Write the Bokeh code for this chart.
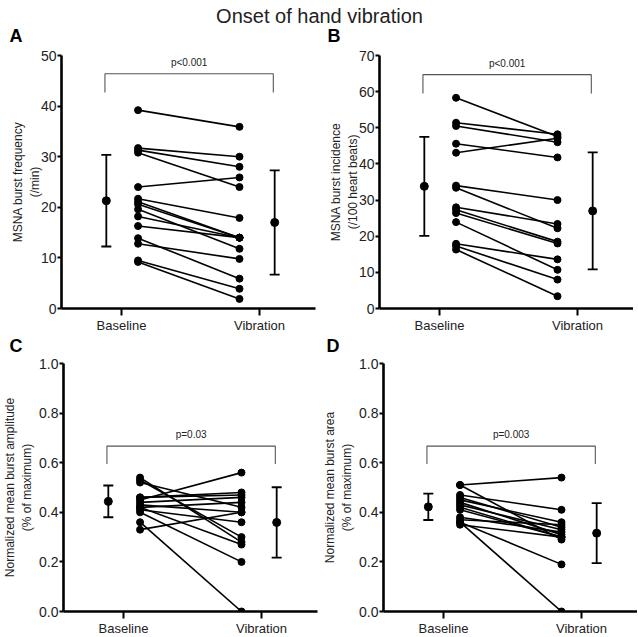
from bokeh.plotting import figure
from bokeh.layouts import column, row
from bokeh.models import Range1d, FixedTicker, Label, Whisker, TeeHead, ColumnDataSource
from bokeh.embed import file_html
from bokeh.resources import INLINE

# ---------------- data ----------------
TITLE = "Onset of hand vibration"
GROUPS = ["Baseline", "Vibration"]

a_baseline = [39.2, 31.7, 31.3, 30.8, 24.0, 21.7, 21.1, 20.6, 19.6, 18.2, 16.3, 13.9, 12.8, 9.5, 9.2]
a_vibration = [35.9, 30.0, 28.0, 24.0, 25.9, 17.9, 14.0, 14.0, 11.8, 14.0, 14.0, 5.9, 9.8, 3.9, 1.9]
a_mean = [21.3, 17.0]
a_sd = [9.05, 10.3]

b_baseline = [58.3, 51.4, 50.5, 45.6, 43.1, 34.0, 33.4, 28.0, 27.3, 26.4, 23.9, 17.9, 17.3, 16.3]
b_vibration = [47.6, 48.2, 46.0, 41.8, 47.1, 30.0, 22.2, 23.4, 18.5, 18.0, 10.7, 13.6, 8.0, 3.4]
b_mean = [33.8, 27.0]
b_sd = [13.7, 16.2]

c_baseline = [0.54, 0.53, 0.52, 0.46, 0.45, 0.44, 0.43, 0.42, 0.42, 0.41, 0.40, 0.36, 0.33, 0.46]
c_vibration = [0.28, 0.30, 0.42, 0.48, 0.56, 0.46, 0.40, 0.27, 0.44, 0.36, 0.20, 0.0, 0.40, 0.47]
c_mean = [0.444, 0.359]
c_sd = [0.064, 0.142]

d_baseline = [0.51, 0.51, 0.47, 0.46, 0.45, 0.44, 0.43, 0.42, 0.41, 0.38, 0.37, 0.36, 0.36, 0.35]
d_vibration = [0.54, 0.29, 0.41, 0.34, 0.36, 0.31, 0.33, 0.30, 0.30, 0.32, 0.35, 0.19, 0.0, 0.30]
d_mean = [0.422, 0.316]
d_sd = [0.053, 0.121]

letters = ["A", "B", "C", "D"]
p_values = ["p<0.001", "p<0.001", "p=0.03", "p=0.003"]
y_titles = [
    "MSNA burst frequency\n(/min)",
    "MSNA burst incidence\n(/100 heart beats)",
    "Normalized mean burst amplitude\n(% of maximum)",
    "Normalized mean burst area\n(% of maximum)",
]
a_ticks = [0, 10, 20, 30, 40, 50]
b_ticks = [0, 10, 20, 30, 40, 50, 60, 70]
cd_ticks = [0.0, 0.2, 0.4, 0.6, 0.8, 1.0]

# ---------------- style / positions ----------------
FONT = "Liberation Sans"
X_POS = [1.0, 2.0]
PT_SHIFT = [0.12, -0.145]
MEAN_SHIFT = [-0.11, 0.11]
PX_PER_X = 138.0
TEXT_COL = "#222222"
LEFT_PANEL = 61
LW, RW = 318, 315


def make_panel(base, vib, mean, sd, ticks, ymax, ytitle, ptxt, bracket,
               frame_w, frame_h, top, bottom, right, fmt, title_standoff):
    x0 = 1.0 - 60 / PX_PER_X
    x1 = x0 + frame_w / PX_PER_X
    p = figure(frame_width=frame_w, frame_height=frame_h, x_range=Range1d(x0, x1),
               y_range=Range1d(0, ymax), toolbar_location=None,
               output_backend="svg", min_border_left=LEFT_PANEL, min_border_right=right,
               min_border_top=top, min_border_bottom=bottom)
    p.outline_line_color = None
    p.grid.grid_line_color = None

    # paired subject lines
    xb = X_POS[0] + PT_SHIFT[0]
    xv = X_POS[1] + PT_SHIFT[1]
    xs = [[xb, xv] for _ in base]
    ys = [[b, v] for b, v in zip(base, vib)]
    p.multi_line(xs=xs, ys=ys, line_color="black", line_width=1.6)
    p.scatter(x=[xb] * len(base), y=base, size=7, color="black")
    p.scatter(x=[xv] * len(vib), y=vib, size=7, color="black")

    # mean +/- SD
    mx = [X_POS[i] + MEAN_SHIFT[i] for i in range(2)]
    src = ColumnDataSource(dict(x=mx, m=mean,
                                lo=[m - s for m, s in zip(mean, sd)],
                                hi=[m + s for m, s in zip(mean, sd)]))
    w = Whisker(base="x", upper="hi", lower="lo", source=src, dimension="height",
                line_color="black", line_width=1.8, level="glyph",
                upper_head=TeeHead(size=10, line_width=1.8, line_color="black"),
                lower_head=TeeHead(size=10, line_width=1.8, line_color="black"))
    p.add_layout(w)
    p.scatter(x="x", y="m", source=src, size=8, color="black")

    # significance bracket
    btop, bleg, btxt = bracket
    bl = X_POS[0] + MEAN_SHIFT[0] - 0.01
    br = X_POS[1] + MEAN_SHIFT[1] - 0.01
    p.line(x=[bl, bl, br, br], y=[bleg, btop, btop, bleg], line_color="#555555", line_width=1.1)
    p.add_layout(Label(x=(bl + br) / 2, y=btxt, text=ptxt, text_align="center",
                       text_baseline="middle", text_font=FONT, text_font_size="10px",
                       text_color=TEXT_COL))

    # axes
    p.xaxis.ticker = FixedTicker(ticks=X_POS)
    p.xaxis.major_label_overrides = {X_POS[0]: GROUPS[0], X_POS[1]: GROUPS[1]}
    p.yaxis.ticker = FixedTicker(ticks=ticks)
    p.yaxis.major_label_overrides = {t: fmt.format(t) for t in ticks}
    for ax in (p.xaxis[0], p.yaxis[0]):
        ax.axis_line_width = 2.6
        ax.axis_line_color = "black"
        ax.major_tick_line_width = 2
        ax.major_tick_line_color = "black"
        ax.major_tick_in = 0
        ax.minor_tick_line_color = None
        ax.major_label_text_font = FONT
        ax.major_label_text_color = TEXT_COL
    p.xaxis.major_tick_out = 7
    p.xaxis.major_label_standoff = 2
    p.xaxis.major_label_text_font_size = "13px"
    p.yaxis.major_tick_out = 4
    p.yaxis.major_label_standoff = 1
    p.yaxis.major_label_text_font_size = "14px"
    p.yaxis.axis_label = ytitle
    p.yaxis.axis_label_standoff = title_standoff
    p.yaxis.axis_label_text_font = FONT
    p.yaxis.axis_label_text_font_size = "12px"
    p.yaxis.axis_label_text_font_style = "normal"
    p.yaxis.axis_label_text_color = TEXT_COL
    return p


def strip(height):
    s = figure(width=LW + RW, height=height, x_range=Range1d(0, LW + RW),
               y_range=Range1d(0, height), x_axis_type=None, y_axis_type=None,
               toolbar_location=None, output_backend="svg", min_border=0)
    s.outline_line_color = None
    s.grid.grid_line_color = None
    return s


def letter(s, x, y, txt):
    s.add_layout(Label(x=x, y=y, text=txt, text_align="left", text_baseline="middle",
                       text_font=FONT, text_font_size="18px", text_font_style="bold",
                       text_color="black"))


FW = 254

pa = make_panel(a_baseline, a_vibration, a_mean, a_sd, a_ticks, 50, y_titles[0],
                p_values[0], (46.4, 42.7, 48.6), FW, 253, 8, 24, LW - LEFT_PANEL - FW,
                "{:.0f}", -4)
pb = make_panel(b_baseline, b_vibration, b_mean, b_sd, b_ticks, 70, y_titles[1],
                p_values[1], (64.7, 59.5, 67.8), FW, 253, 8, 24, RW - LEFT_PANEL - FW,
                "{:.0f}", -4)
pc = make_panel(c_baseline, c_vibration, c_mean, c_sd, cd_ticks, 1.0, y_titles[2],
                p_values[2], (0.667, 0.595, 0.712), FW, 248, 7, 24, LW - LEFT_PANEL - FW,
                "{:.1f}", 2)
pd_ = make_panel(d_baseline, d_vibration, d_mean, d_sd, cd_ticks, 1.0, y_titles[3],
                 p_values[3], (0.667, 0.595, 0.712), FW, 248, 7, 24, RW - LEFT_PANEL - FW,
                 "{:.1f}", 2)

TOP_H = 47
top = strip(TOP_H)
top.add_layout(Label(x=319, y=TOP_H - 15, text=TITLE, text_align="center",
                     text_baseline="middle", text_font=FONT, text_font_size="20px",
                     text_color=TEXT_COL))
letter(top, 9, 11.5, letters[0])
letter(top, 327, 11.5, letters[1])

MID_H = 21
mid = strip(MID_H)
letter(mid, 9, 11, letters[2])
letter(mid, 326, 11, letters[3])

layout = column(top, row(pa, pb), mid, row(pc, pd_))
open("out.html", "w").write(file_html(layout, INLINE))
